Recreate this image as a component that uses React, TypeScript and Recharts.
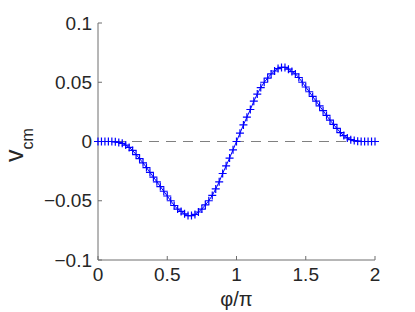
import React from "react";
import { LineChart, Line, XAxis, YAxis, ReferenceLine } from "recharts";

const phi = [
  0, 0.025, 0.05, 0.075, 0.1, 0.125, 0.15, 0.175, 0.2, 0.225, 0.25, 0.275, 0.3, 0.325, 0.35, 0.375, 0.4,
  0.425, 0.45, 0.475, 0.5, 0.525, 0.55, 0.575, 0.6, 0.625, 0.65, 0.675, 0.7, 0.725, 0.75, 0.775, 0.8,
  0.825, 0.85, 0.875, 0.9, 0.925, 0.95, 0.975, 1, 1.025, 1.05, 1.075, 1.1, 1.125, 1.15, 1.175, 1.2,
  1.225, 1.25, 1.275, 1.3, 1.325, 1.35, 1.375, 1.4, 1.425, 1.45, 1.475, 1.5, 1.525, 1.55, 1.575, 1.6,
  1.625, 1.65, 1.675, 1.7, 1.725, 1.75, 1.775, 1.8, 1.825, 1.85, 1.875, 1.9, 1.925, 1.95, 1.975, 2,
];

const vcm = [
  0, 0, 0, 0, 0, -0.0003, -0.0008, -0.0015, -0.003, -0.005, -0.0075, -0.011, -0.0145, -0.018, -0.022,
  -0.026, -0.03, -0.034, -0.038, -0.042, -0.046, -0.05, -0.054, -0.057, -0.059, -0.061, -0.0625, -0.0625,
  -0.0615, -0.0595, -0.057, -0.0535, -0.05, -0.0455, -0.04, -0.034, -0.027, -0.0205, -0.014, -0.007, 0,
  0.007, 0.014, 0.0205, 0.027, 0.034, 0.04, 0.0455, 0.05, 0.0535, 0.057, 0.0595, 0.0615, 0.0625, 0.0625,
  0.061, 0.059, 0.057, 0.054, 0.05, 0.046, 0.042, 0.038, 0.034, 0.03, 0.026, 0.022, 0.018, 0.0145, 0.011,
  0.0075, 0.005, 0.003, 0.0015, 0.0008, 0.0003, 0, 0, 0, 0, 0,
];

const xTicks = [0, 0.5, 1, 1.5, 2];
const yTicks = [-0.1, -0.05, 0, 0.05, 0.1];

const data = phi.map((x, i) => ({ x, y: vcm[i] }));

const FONT = "'Liberation Sans', Arial, Helvetica, sans-serif";
const AXIS = "#6e6e6e";
const TEXT = "#262626";

const fmtY = (v: number) => (v < 0 ? "\u2212" + String(Math.abs(v)) : String(v));

const PlusDot = (props: any) => {
  const { cx, cy, index } = props;
  if (cx == null || cy == null) return <g key={`d${index}`} />;
  return (
    <path
      key={`d${index}`}
      d={`M${cx - 4},${cy}H${cx + 4}M${cx},${cy - 4}V${cy + 4}`}
      stroke="#0000ff"
      strokeWidth={1.2}
      fill="none"
    />
  );
};

const YLabel = () => (
  <text
    transform="translate(23,162) rotate(-90)"
    fontFamily={FONT}
    fill={TEXT}
    fontSize={25}
  >
    v
    <tspan fontSize={16} dy={10}>
      cm
    </tspan>
  </text>
);

export default function App() {
  return (
    <div style={{ position: "absolute", left: 0, top: 0, width: 415, height: 312, background: "#fff" }}>
      <LineChart
        width={415}
        height={312}
        data={data}
        margin={{ top: 23, right: 40, bottom: 12, left: 38 }}
      >
        <XAxis
          dataKey="x"
          type="number"
          domain={[0, 2]}
          ticks={xTicks}
          interval={0}
          height={40}
          stroke={AXIS}
          tickSize={-4}
          tickMargin={12}
          tick={{ fill: TEXT, fontSize: 19, fontFamily: FONT }}
          tickFormatter={(v: number) => String(v)}
          label={{
            value: "\u03C6/\u03C0",
            position: "insideBottom",
            offset: -6,
            fill: TEXT,
            fontSize: 20,
            fontFamily: FONT,
          }}
        />
        <YAxis
          dataKey="y"
          type="number"
          domain={[-0.1, 0.1]}
          ticks={yTicks}
          interval={0}
          width={60}
          stroke={AXIS}
          tickSize={-4}
          tickMargin={10}
          tick={{ fill: TEXT, fontSize: 19, fontFamily: FONT }}
          tickFormatter={fmtY}
        />
        <ReferenceLine y={0} stroke="#808080" strokeDasharray="10 7" strokeWidth={1} />
        <Line
          type="linear"
          dataKey="y"
          stroke="#0000ff"
          strokeWidth={1}
          dot={PlusDot}
          activeDot={false}
          isAnimationActive={false}
        />
        <YLabel />
      </LineChart>
    </div>
  );
}
